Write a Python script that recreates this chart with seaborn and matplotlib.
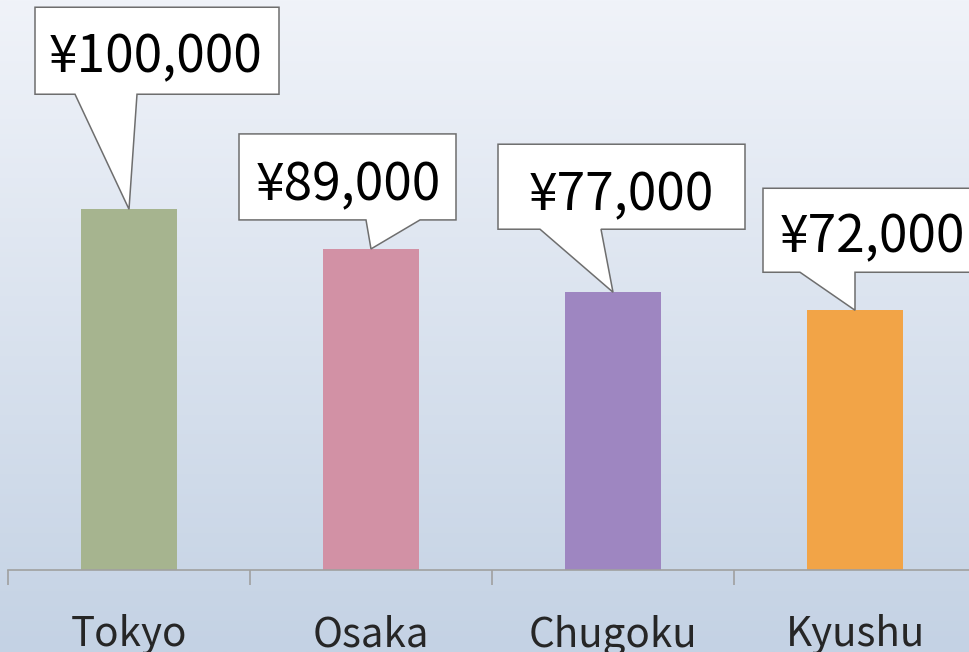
"""Regional price comparison — bar chart with callout value labels."""

import numpy as np
import matplotlib.pyplot as plt
import matplotlib.transforms as mtransforms
from matplotlib.patches import Polygon
import seaborn as sns

# =============================================================================
# DATA
# =============================================================================

CATEGORIES: list[str] = ["Tokyo", "Osaka", "Chugoku", "Kyushu"]
VALUES: list[int] = [100000, 89000, 77000, 72000]
VALUE_LABELS: list[str] = ["¥100,000", "¥89,000", "¥77,000", "¥72,000"]

# =============================================================================
# STYLE
# =============================================================================

BAR_COLORS: dict[str, str] = {
    "Tokyo": "#a6b48f",
    "Osaka": "#d291a5",
    "Chugoku": "#9e86c1",
    "Kyushu": "#f2a447",
}
BG_TOP = np.array([0xF0, 0xF3, 0xF9]) / 255
BG_BOTTOM = np.array([0xC4, 0xD2, 0xE4]) / 255
AXIS_COLOR = "#a0a0a0"
BOX_EDGE = "#6e6e6e"

FS_VALUE = 37
FS_CAT = 29
Y_MAX = 158000
BAR_WIDTH = 0.4

# Callout geometry in pixels relative to the bar top (x right, y up):
# (box left, box right, box bottom, box top, pointer base left, base right)
CALLOUT_BOX = [
    (-94, 150, 115, 202, -54, 8),
    (-132, 85, 29, 115, -5, 49),
    (-115, 132, 63, 148, -73, -12),
    (-92, 130, 38, 122, -55, 0),
]
# text anchor (centre x, baseline y) in pixels relative to the bar top
CALLOUT_TEXT = [(27, 137), (-23, 49), (8, 82), (17, 58)]


def draw_background(fig: plt.Figure) -> None:
    """Vertical light-to-blue gradient behind everything."""
    bg = fig.add_axes([0, 0, 1, 1], zorder=-10)
    t = np.linspace(0, 1, 256)[:, None]
    grad = BG_TOP[None, :] * (1 - t) + BG_BOTTOM[None, :] * t
    bg.imshow(grad[:, None, :], aspect="auto", extent=(0, 1, 0, 1))
    bg.set_axis_off()


def draw_callout(ax, fig, x, y, box, text_pos, label) -> None:
    """Speech-bubble label anchored on the bar top (x, y)."""
    left, right, bot, top, bl, br = box
    px = fig.dpi / 100.0
    verts = np.array([
        (0, 0), (bl, bot), (left, bot), (left, top),
        (right, top), (right, bot), (br, bot),
    ]) * px
    trans = mtransforms.ScaledTranslation(x, y, ax.transData)
    poly = Polygon(
        verts, closed=True, facecolor="white", edgecolor=BOX_EDGE,
        linewidth=1.1, transform=mtransforms.IdentityTransform() + trans,
        clip_on=False, zorder=5,
    )
    ax.add_artist(poly)
    ax.annotate(
        label, (x, y), xytext=text_pos, textcoords="offset pixels",
        ha="center", va="baseline", fontsize=FS_VALUE, color="black",
        zorder=6, annotation_clip=False,
    )


def main() -> None:
    sns.set_style("white")
    plt.rcParams["font.family"] = ["Noto Sans CJK JP", "DejaVu Sans"]

    fig = plt.figure(figsize=(9.69, 6.52), dpi=100)
    draw_background(fig)

    ax = fig.add_axes([8 / 969, 82 / 652, 968 / 969, 570 / 652], zorder=1)
    ax.patch.set_alpha(0)

    sns.barplot(
        x=CATEGORIES, y=VALUES, hue=CATEGORIES, palette=BAR_COLORS,
        width=BAR_WIDTH, saturation=1, legend=False, linewidth=0, ax=ax,
    )
    ax.set_xlim(-0.5, len(CATEGORIES) - 0.5)
    ax.set_ylim(0, Y_MAX)

    for side in ["top", "right", "left"]:
        ax.spines[side].set_visible(False)
    ax.spines["bottom"].set_color(AXIS_COLOR)
    ax.spines["bottom"].set_linewidth(1.2)
    ax.set_yticks([])
    ax.set_xlabel("")
    ax.set_ylabel("")

    ax.set_xticks(range(len(CATEGORIES)))
    ax.set_xticklabels(CATEGORIES, fontsize=FS_CAT)
    ax.set_xticks(np.arange(-0.5, len(CATEGORIES)), minor=True)
    ax.tick_params(axis="x", which="major", length=0, pad=32)
    ax.tick_params(axis="x", which="minor", length=11, width=1.2,
                   color=AXIS_COLOR, direction="out", bottom=True)

    for i, (val, label) in enumerate(zip(VALUES, VALUE_LABELS)):
        draw_callout(ax, fig, i, val, CALLOUT_BOX[i], CALLOUT_TEXT[i], label)

    fig.savefig("out.png", dpi=100)
    plt.close(fig)


if __name__ == "__main__":
    main()
